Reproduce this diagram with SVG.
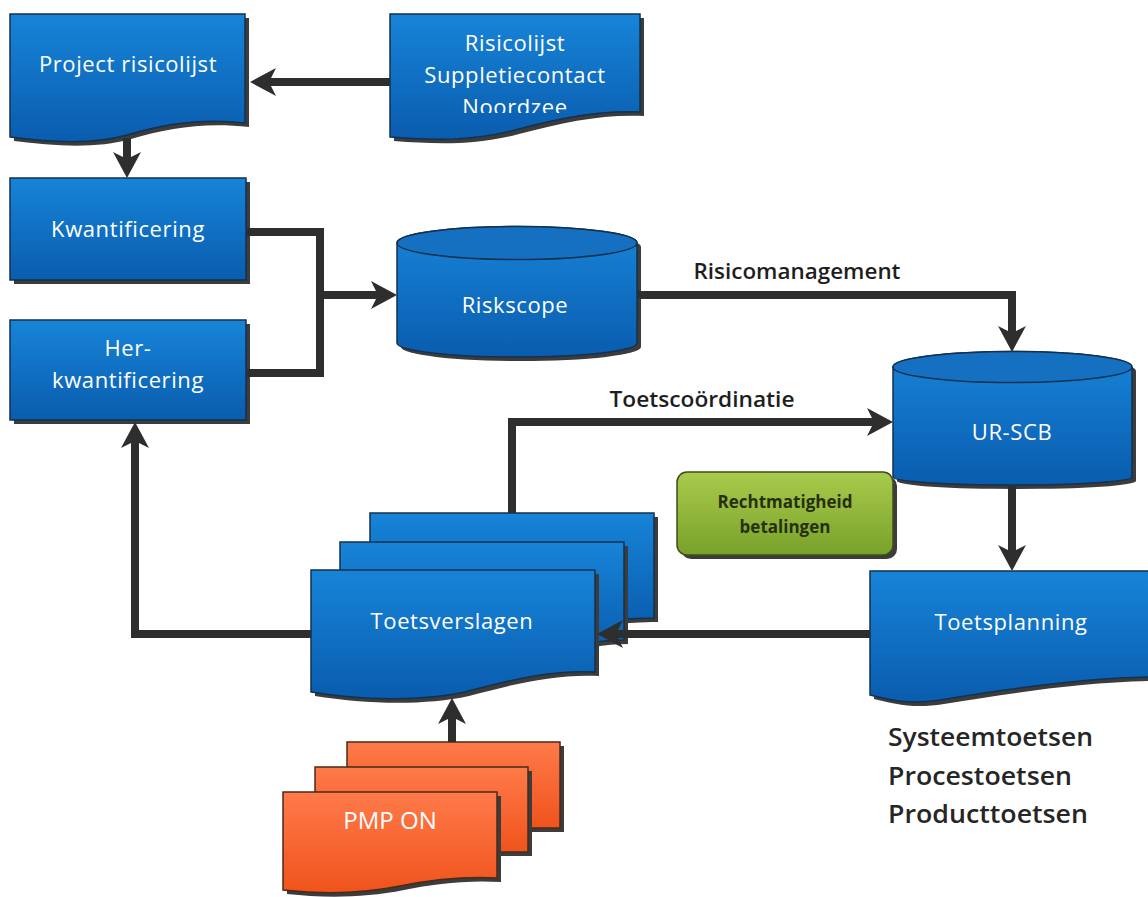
<svg xmlns="http://www.w3.org/2000/svg" width="1148" height="897" viewBox="0 0 1148 897">
  <style>
    .blue { fill: url(#gBlue); stroke: #12324f; stroke-width: 1.5; }
    .orange { fill: url(#gOrange); stroke: #4a2a1a; stroke-width: 1.5; }
    .green { fill: url(#gGreen); stroke: #3e4e1a; stroke-width: 1.5; }
    .cap { fill: #1670c2; stroke: #12324f; stroke-width: 1.5; }
    .shadow { fill: #3c3c3c; }
    .lbl { font-family: "Open Sans", "Liberation Sans", sans-serif; font-size: 22px; letter-spacing: 0.6px; fill: #ffffff; text-anchor: middle; }
    .edge { fill: none; stroke: #2e2e2e; stroke-width: 8; stroke-linejoin: miter; }
    .elbl { font-family: "Open Sans", "Liberation Sans", sans-serif; font-size: 21px; font-weight: 600; fill: #1e1e1e; text-anchor: middle; }
    .note { font-family: "Open Sans", "Liberation Sans", sans-serif; font-size: 25px; font-weight: 600; fill: #262626; }
    .glbl { font-family: "Open Sans", "Liberation Sans", sans-serif; font-size: 17px; font-weight: 700; fill: #26300e; text-anchor: middle; }
  </style>
  <defs>
    <linearGradient id="gBlue" x1="0" y1="0" x2="0" y2="1">
      <stop offset="0" stop-color="#1784d8"/>
      <stop offset="1" stop-color="#0a5cae"/>
    </linearGradient>
    <linearGradient id="gOrange" x1="0" y1="0" x2="0" y2="1">
      <stop offset="0" stop-color="#ff7a4a"/>
      <stop offset="1" stop-color="#f0531c"/>
    </linearGradient>
    <linearGradient id="gGreen" x1="0" y1="0" x2="0" y2="1">
      <stop offset="0" stop-color="#a9cb4c"/>
      <stop offset="1" stop-color="#78a12a"/>
    </linearGradient>
    <marker id="arrow" viewBox="0 0 26 28" refX="7" refY="14" markerWidth="26" markerHeight="28" markerUnits="userSpaceOnUse" orient="auto">
      <path d="M26,14 L0,0 L7,14 L0,28 Z" fill="#2e2e2e"/>
    </marker>
    <clipPath id="clipRisico">
      <rect x="390" y="14" width="252" height="99"/>
    </clipPath>
  </defs>

  <!-- Project risicolijst -->
  <g id="project-risicolijst">
    <path class="shadow" transform="translate(4,4)" d="M10,14 H245 V123 C200,118 165,124 127,135 C92,145 50,142 10,137 Z"/>
    <path class="blue" d="M10,14 H245 V123 C200,118 165,124 127,135 C92,145 50,142 10,137 Z"/>
    <text class="lbl" x="128" y="72">Project risicolijst</text>
  </g>

  <!-- Risicolijst Suppletiecontact Noordzee -->
  <g id="risicolijst-noordzee">
    <path class="shadow" transform="translate(4,4)" d="M390,14 H640 V112 C600,110 560,118 515,130 C470,142 430,140 390,137 Z"/>
    <path class="blue" d="M390,14 H640 V112 C600,110 560,118 515,130 C470,142 430,140 390,137 Z"/>
    <g clip-path="url(#clipRisico)">
      <text class="lbl" x="515" y="51">Risicolijst</text>
      <text class="lbl" x="515" y="83">Suppletiecontact</text>
      <text class="lbl" x="515" y="115">Noordzee</text>
    </g>
  </g>

  <!-- Kwantificering -->
  <g id="kwantificering">
    <rect class="shadow" x="14" y="182" width="236" height="102"/>
    <rect class="blue" x="10" y="178" width="236" height="102"/>
    <text class="lbl" x="128" y="237">Kwantificering</text>
  </g>

  <!-- Her-kwantificering -->
  <g id="herkwantificering">
    <rect class="shadow" x="14" y="324" width="236" height="100"/>
    <rect class="blue" x="10" y="320" width="236" height="100"/>
    <text class="lbl" x="128" y="356">Her-</text>
    <text class="lbl" x="128" y="388">kwantificering</text>
  </g>

  <!-- Riskscope -->
  <g id="riskscope">
    <path class="shadow" transform="translate(4,4)" d="M397,243 A120,16.5 0 0 1 637,243 V343 A120,14 0 0 1 397,343 Z"/>
    <path class="blue" d="M397,243 A120,16.5 0 0 1 637,243 V343 A120,14 0 0 1 397,343 Z"/>
    <ellipse class="cap" cx="517" cy="243" rx="120" ry="16.5"/>
    <text class="lbl" x="515" y="313">Riskscope</text>
  </g>

  <!-- UR-SCB -->
  <g id="ur-scb">
    <path class="shadow" transform="translate(4,4)" d="M893,367 A119.5,15.5 0 0 1 1132,367 V477 A119.5,8 0 0 1 893,477 Z"/>
    <path class="blue" d="M893,367 A119.5,15.5 0 0 1 1132,367 V477 A119.5,8 0 0 1 893,477 Z"/>
    <ellipse class="cap" cx="1012.5" cy="367" rx="119.5" ry="15.5"/>
    <text class="lbl" x="1012" y="440">UR-SCB</text>
  </g>

  <!-- Rechtmatigheid betalingen -->
  <g id="rechtmatigheid">
    <rect class="shadow" x="681" y="476" width="216" height="83" rx="10"/>
    <rect class="green" x="677" y="472" width="216" height="83" rx="10"/>
    <text class="glbl" x="785" y="508">Rechtmatigheid</text>
    <text class="glbl" x="785" y="533">betalingen</text>
  </g>

  <!-- Toetsverslagen (stack of documents) -->
  <g id="toetsverslagen">
    <path class="shadow" transform="translate(4,4)" d="M370,513 H654 V618 C620,618 600,622 570,628 H370 Z"/>
    <path class="blue" d="M370,513 H654 V618 C620,618 600,622 570,628 H370 Z"/>
    <path class="shadow" transform="translate(4,4)" d="M340,542 H624 V640 C600,640 580,644 550,652 H340 Z"/>
    <path class="blue" d="M340,542 H624 V640 C600,640 580,644 550,652 H340 Z"/>
    <path class="shadow" transform="translate(4,4)" d="M311,570 H595 V672 C550,670 510,680 465,692 C420,702 360,700 311,692 Z"/>
    <path class="blue" d="M311,570 H595 V672 C550,670 510,680 465,692 C420,702 360,700 311,692 Z"/>
    <text class="lbl" x="452" y="629">Toetsverslagen</text>
  </g>

  <!-- Toetsplanning -->
  <g id="toetsplanning">
    <path class="shadow" transform="translate(4,4)" d="M870,571 H1150 V677 C1080,678 1000,690 940,700 C910,705 890,700 870,695 Z"/>
    <path class="blue" d="M870,571 H1150 V677 C1080,678 1000,690 940,700 C910,705 890,700 870,695 Z"/>
    <text class="lbl" x="1011" y="630">Toetsplanning</text>
  </g>

  <!-- PMP ON (stack of documents) -->
  <g id="pmp-on">
    <path class="shadow" transform="translate(4,4)" d="M347,742 H560 V828 H347 Z"/>
    <path class="orange" d="M347,742 H560 V828 H347 Z"/>
    <path class="shadow" transform="translate(4,4)" d="M315,767 H528 V852 H315 Z"/>
    <path class="orange" d="M315,767 H528 V852 H315 Z"/>
    <path class="shadow" transform="translate(4,4)" d="M283,792 H497 V878 C460,876 430,880 400,886 C360,894 320,894 283,890 Z"/>
    <path class="orange" d="M283,792 H497 V878 C460,876 430,880 400,886 C360,894 320,894 283,890 Z"/>
    <text class="lbl" x="390" y="829" style="font-size:24px;letter-spacing:0">PMP ON</text>
  </g>

  <!-- test types -->
  <g id="toetstypen">
    <text class="note" x="888" y="746" textLength="205" lengthAdjust="spacingAndGlyphs">Systeemtoetsen</text>
    <text class="note" x="888" y="785" textLength="184" lengthAdjust="spacingAndGlyphs">Procestoetsen</text>
    <text class="note" x="888" y="823" textLength="200" lengthAdjust="spacingAndGlyphs">Producttoetsen</text>
  </g>

  <!-- connectors -->
  <g id="connectors">
    <!-- Risicolijst -> Project risicolijst -->
    <path class="edge" d="M390,82 H269" marker-end="url(#arrow)"/>
    <!-- Project risicolijst -> Kwantificering -->
    <path class="edge" d="M127,138 V159" marker-end="url(#arrow)"/>
    <!-- Kwantificering / Her-kwantificering -> Riskscope -->
    <path class="edge" d="M247,232 H320 V373 H247"/>
    <path class="edge" d="M320,295 H378" marker-end="url(#arrow)"/>
    <!-- Riskscope -> UR-SCB -->
    <path class="edge" d="M638,295 H1012 V333" marker-end="url(#arrow)"/>
    <text class="elbl" x="797" y="279" textLength="207" lengthAdjust="spacingAndGlyphs">Risicomanagement</text>
    <!-- Toetsverslagen -> UR-SCB -->
    <path class="edge" d="M512,513 V422 H874" marker-end="url(#arrow)"/>
    <text class="elbl" x="702" y="407" textLength="185" lengthAdjust="spacingAndGlyphs">Toetscoördinatie</text>
    <!-- UR-SCB -> Toetsplanning -->
    <path class="edge" d="M1012,486 V552" marker-end="url(#arrow)"/>
    <!-- Toetsplanning -> Toetsverslagen -->
    <path class="edge" d="M870,634 H616" marker-end="url(#arrow)"/>
    <!-- Toetsverslagen -> Her-kwantificering -->
    <path class="edge" d="M311,634 H135 V441" marker-end="url(#arrow)"/>
    <!-- PMP ON -> Toetsverslagen -->
    <path class="edge" d="M452,742 V717" marker-end="url(#arrow)"/>
  </g>
</svg>
